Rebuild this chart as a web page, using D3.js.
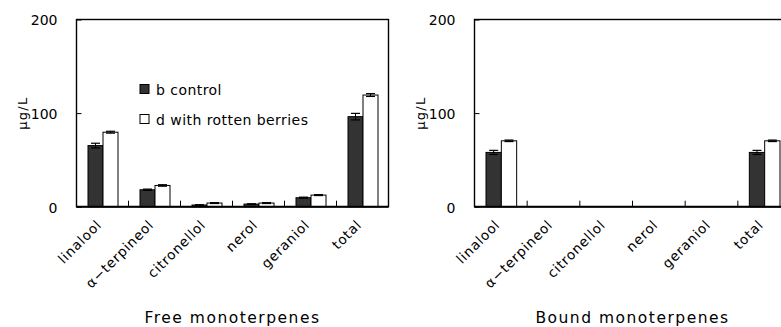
<!DOCTYPE html>
<html>
<head>
<meta charset="utf-8">
<script src="https://cdn.jsdelivr.net/npm/d3@7/dist/d3.min.js"></script>
<style>
  html, body { margin: 0; padding: 0; background: #fff; }
  svg { display: block; font-family: "DejaVu Sans", "Liberation Sans", sans-serif; }
</style>
</head>
<body>
<svg id="chart" width="781" height="327"></svg>
<script>
// Monoterpene concentrations (µg/L), mean and error for each treatment
const categories = ["linalool", "α−terpineol", "citronellol", "nerol", "geraniol", "total"];
const seriesNames = ["b control", "d with rotten berries"];

const freeControl    = [65.3, 18.1, 1.8, 2.8, 9.6, 96.2];
const freeControlErr = [2.5, 0.7, 0.3, 0.3, 0.6, 3.5];
const freeRotten     = [79.6, 22.7, 3.9, 3.9, 12.4, 119.3];
const freeRottenErr  = [1.0, 0.8, 0.5, 0.5, 0.5, 1.5];

const boundControl    = [58.0, 0, 0, 0, 0, 58.0];
const boundControlErr = [2.2, 0, 0, 0, 0, 2.2];
const boundRotten     = [70.4, 0, 0, 0, 0, 70.4];
const boundRottenErr  = [0.8, 0, 0, 0, 0, 0.8];

const yTicks = [0, 100, 200];
const panelTitles = ["Free monoterpenes", "Bound monoterpenes"];
const yLabel = "μg/L";

const seriesFill = ["#333333", "#ffffff"];

const svg = d3.select("#chart");
const yTop = 19.5, yBottom = 206.7;
const y = d3.scaleLinear().domain([0, 200]).range([yBottom, yTop]);

function drawPanel(x0, x1, control, controlErr, rotten, rottenErr, title, withLegend) {
  const g = svg.append("g");
  const x = d3.scaleBand().domain(categories).range([x0, x1]).paddingInner(0).paddingOuter(0);
  const bw = x.bandwidth();
  const xs = d3.scaleBand().domain(seriesNames).range([11.5, bw - 10.5]).padding(0);

  const rows = categories.map((c, i) => ({
    cat: c,
    vals: [
      { s: seriesNames[0], v: control[i], e: controlErr[i] },
      { s: seriesNames[1], v: rotten[i], e: rottenErr[i] }
    ]
  }));

  // Bars
  const grp = g.selectAll("g.cat").data(rows).join("g")
    .attr("transform", d => `translate(${x(d.cat)},0)`);
  grp.selectAll("rect").data(d => d.vals).join("rect")
    .attr("x", d => xs(d.s))
    .attr("y", d => y(d.v))
    .attr("width", xs.bandwidth())
    .attr("height", d => y(0) - y(d.v))
    .attr("fill", (d, i) => seriesFill[i])
    .attr("stroke", "#000")
    .attr("stroke-width", 1);

  // Error bars
  const eb = grp.selectAll("g.err").data(d => d.vals.filter(v => v.e > 0)).join("g");
  eb.append("line")
    .attr("x1", d => xs(d.s) + xs.bandwidth() / 2)
    .attr("x2", d => xs(d.s) + xs.bandwidth() / 2)
    .attr("y1", d => y(d.v + d.e))
    .attr("y2", d => y(d.v - d.e))
    .attr("stroke", "#000").attr("stroke-width", 1);
  ["+", "-"].forEach(sign => {
    eb.append("line")
      .attr("x1", d => xs(d.s) + xs.bandwidth() / 2 - 4.5)
      .attr("x2", d => xs(d.s) + xs.bandwidth() / 2 + 4.5)
      .attr("y1", d => y(sign === "+" ? d.v + d.e : d.v - d.e))
      .attr("y2", d => y(sign === "+" ? d.v + d.e : d.v - d.e))
      .attr("stroke", "#000").attr("stroke-width", 1.2);
  });

  // Frame
  g.append("rect")
    .attr("x", x0).attr("y", yTop)
    .attr("width", x1 - x0).attr("height", yBottom - yTop)
    .attr("fill", "none").attr("stroke", "#000").attr("stroke-width", 1.4);
  g.append("line")
    .attr("x1", x0).attr("x2", x1).attr("y1", yBottom).attr("y2", yBottom)
    .attr("stroke", "#000").attr("stroke-width", 2);

  // Category separator ticks (pointing inward)
  g.selectAll("line.xt").data(categories.slice(1)).join("line")
    .attr("x1", d => x(d)).attr("x2", d => x(d))
    .attr("y1", yBottom).attr("y2", yBottom - 6)
    .attr("stroke", "#000").attr("stroke-width", 1);

  // Y axis
  const yAxis = d3.axisLeft(y).tickValues(yTicks).tickSize(-5).tickPadding(19);
  const ya = g.append("g").attr("transform", `translate(${x0},0)`).call(yAxis);
  ya.select(".domain").remove();
  ya.selectAll(".tick line").attr("stroke", "#000");
  ya.selectAll(".tick text")
    .attr("font-size", 14).attr("fill", "#000")
    .attr("font-family", "DejaVu Sans, sans-serif")
    .attr("dy", "0.38em");

  // Y label
  g.append("text")
    .attr("transform", `translate(${x0 - 54},${y(100)}) rotate(-90)`)
    .attr("text-anchor", "middle")
    .attr("dy", "0.35em")
    .attr("font-size", 13)
    .attr("letter-spacing", 1.3)
    .text(yLabel);

  // Category labels
  g.selectAll("text.cat").data(categories).join("text")
    .attr("transform", d => `translate(${x(d) + bw / 2},${yBottom + 19}) rotate(-45)`)
    .attr("text-anchor", "end")
    .attr("font-size", 13.5)
    .attr("letter-spacing", 0.8)
    .text(d => d);

  // Panel title
  g.append("text")
    .attr("x", (x0 + x1) / 2).attr("y", 323)
    .attr("text-anchor", "middle")
    .attr("font-size", 15.5)
    .attr("letter-spacing", 1.5)
    .text(title);

  if (withLegend) {
    const lg = g.append("g").attr("transform", "translate(140,84.5)");
    const items = lg.selectAll("g").data(seriesNames).join("g")
      .attr("transform", (d, i) => `translate(0,${i * 30})`);
    items.append("rect")
      .attr("width", 9).attr("height", 9)
      .attr("fill", (d, i) => seriesFill[i])
      .attr("stroke", "#000").attr("stroke-width", 1);
    items.append("text")
      .attr("x", 16).attr("y", 10)
      .attr("font-size", 14)
      .attr("letter-spacing", 0.45)
      .text(d => d);
  }
}

drawPanel(76.5, 388.5, freeControl, freeControlErr, freeRotten, freeRottenErr, panelTitles[0], true);
drawPanel(474.5, 790.5, boundControl, boundControlErr, boundRotten, boundRottenErr, panelTitles[1], false);
</script>
</body>
</html>
